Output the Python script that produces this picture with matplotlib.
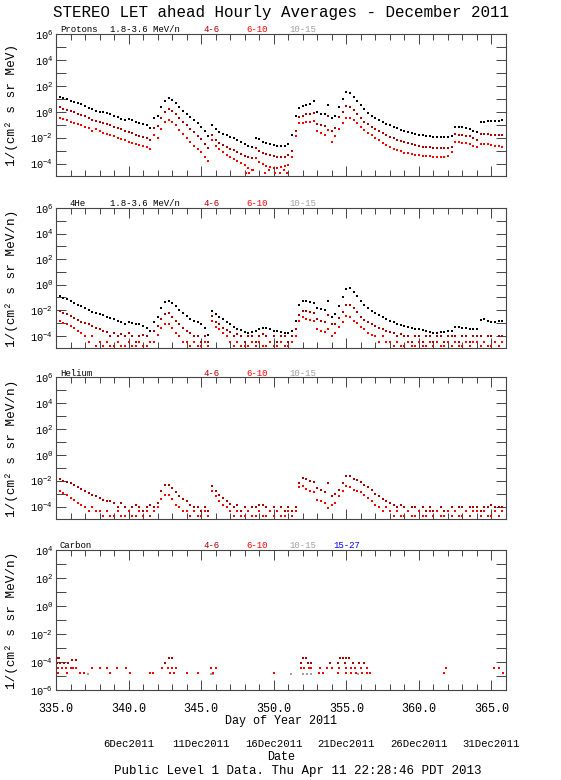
import numpy as np
import matplotlib.pyplot as plt
from matplotlib.ticker import FixedLocator, MultipleLocator, NullFormatter, FixedFormatter

plt.rcParams['font.family'] = ['Liberation Mono', 'DejaVu Sans Mono']
plt.rcParams['mathtext.default'] = 'regular'

# day of year grid, 4 samples per day (335.00 .. 365.75)
days = np.arange(335, 366, 0.25)

# log10 flux, one row per day
prot_18_36 = [
    1.22, 1.12, 1.03, 0.95,
    0.87, 0.78, 0.68, 0.58,
    0.46, 0.32, 0.18, 0.08,
    0.02, -0.03, -0.08, -0.15,
    -0.33, -0.40, -0.55, -0.65,
    -0.52, -0.65, -0.75, -0.85,
    -0.95, -1.05, -1.25, -0.45,
    -0.35, 0.35, 0.85, 1.08,
    0.90, 0.65, 0.35, 0.10,
    -0.15, -0.40, -0.65, -0.90,
    -1.15, -1.50, -1.85, -1.00,
    -1.35, -1.55, -1.70, -1.80,
    -1.95, -2.05, -2.20, -2.35,
    -2.50, -2.60, -2.70, -2.00,
    -2.10, -2.30, -2.40, -2.50,
    -2.55, -2.60, -2.65, -2.62,
    -2.50, -1.80, -0.30, 0.30,
    0.45, 0.55, 0.60, 0.85,
    -0.05, -0.15, -0.20, 0.50,
    -0.45, -0.35, 0.40, 1.00,
    1.55, 1.45, 1.15, 0.85,
    0.55, 0.20, -0.10, -0.30,
    -0.45, -0.60, -0.80, -0.92,
    -1.05, -1.15, -1.28, -1.38,
    -1.48, -1.55, -1.65, -1.72,
    -1.78, -1.82, -1.87, -1.90,
    -1.93, -1.95, -1.97, -1.97,
    -1.95, -1.85, -1.15, -1.18,
    -1.20, -1.25, -1.30, -1.45,
    -1.55, -0.80, -0.75, -0.72,
    -0.70, -0.72, -0.68, -0.65,
]
prot_4_6 = [
    0.44, 0.35, 0.25, 0.15,
    0.05, -0.05, -0.15, -0.25,
    -0.35, -0.45, -0.60, -0.68,
    -0.80, -0.88, -0.95, -1.05,
    -1.15, -1.25, -1.35, -1.50,
    -1.55, -1.65, -1.75, -1.85,
    -1.95, -2.05, -2.20, -1.25,
    -1.10, -0.50, 0.00, 0.18,
    0.05, -0.20, -0.50, -0.75,
    -1.00, -1.30, -1.55, -1.85,
    -2.10, -2.45, -2.80, -1.80,
    -2.15, -2.40, -2.55, -2.70,
    -2.85, -2.95, -3.10, -3.25,
    -3.40, -3.50, -3.60, -2.80,
    -3.00, -3.15, -3.25, -3.35,
    -3.40, -3.45, -3.50, -3.45,
    -3.30, -3.00, -1.50, -0.40,
    -0.30, -0.20, -0.15, -0.08,
    -0.95, -1.05, -1.12, -0.30,
    -1.45, -1.25, -0.40, 0.00,
    0.45, 0.40, 0.15, -0.15,
    -0.45, -0.75, -0.95, -1.15,
    -1.30, -1.45, -1.65, -1.80,
    -1.95, -2.05, -2.15, -2.25,
    -2.35, -2.42, -2.50, -2.58,
    -2.62, -2.68, -2.72, -2.75,
    -2.78, -2.80, -2.82, -2.82,
    -2.80, -2.75, -1.70, -1.75,
    -1.80, -1.85, -1.90, -2.05,
    -2.15, -1.70, -1.70, -1.72,
    -1.75, -1.78, -1.75, -1.77,
]
prot_6_10 = [
    -0.34, -0.45, -0.55, -0.65,
    -0.75, -0.85, -0.95, -1.05,
    -1.15, -1.28, -1.50, -1.30,
    -1.45, -1.60, -1.70, -1.80,
    -1.90, -2.00, -2.10, -2.20,
    -2.30, -2.40, -2.47, -2.55,
    -2.65, -2.75, -2.88, -1.80,
    -2.00, -1.30, -0.80, -0.60,
    -0.75, -1.00, -1.40, -1.70,
    -2.00, -2.30, -2.60, -2.90,
    -3.10, -3.50, -3.80, -2.20,
    -2.60, -2.90, -3.10, -3.30,
    -3.50, -3.65, -3.80, -3.95,
    -4.10, -4.30, -4.45, -3.60,
    -3.85, -4.00, -4.15, -4.25,
    -4.30, -4.30, -4.25, -4.20,
    -4.10, -3.50, -1.90, -0.90,
    -0.85, -0.80, -0.75, -0.72,
    -1.50, -1.65, -1.75, -1.40,
    -2.30, -1.90, -1.30, -0.90,
    -0.50, -0.50, -0.65, -0.90,
    -1.15, -1.40, -1.60, -1.80,
    -2.00, -2.20, -2.40, -2.55,
    -2.70, -2.85, -2.95, -3.05,
    -3.15, -3.20, -3.25, -3.30,
    -3.35, -3.38, -3.40, -3.43,
    -3.45, -3.45, -3.47, -3.45,
    -3.40, -3.10, -2.30, -2.35,
    -2.38, -2.42, -2.50, -2.65,
    -2.70, -2.45, -2.45, -2.50,
    -2.55, -2.60, -2.65, -2.68,
]
# low-count proton points near the floor, 6-10 MeV
prot_6_10_floor_day = [348.1, 348.3, 348.6, 349.4, 349.7, 350.1, 350.4, 350.7, 350.9]
prot_6_10_floor_log = [-4.75, -4.75, -4.5, -4.75, -4.5, -4.75, -4.75, -4.5, -4.75]

he4_18_36 = [
    -0.79, -0.92, -1.05, -1.15,
    -1.25, -1.40, -1.55, -1.70,
    -1.85, -1.97, -2.10, -2.20,
    -2.30, -2.40, -2.50, -2.58,
    -2.70, -2.80, -2.95, -3.05,
    -2.90, -3.00, -3.05, -3.10,
    -3.20, -3.35, -3.60, -2.90,
    -2.50, -1.80, -1.35, -1.25,
    -1.45, -1.70, -2.00, -2.25,
    -2.45, -2.65, -2.80, -2.95,
    -3.05, -3.40, -3.90, -2.05,
    -2.30, -2.50, -2.70, -2.90,
    -3.10, -3.30, -3.45, -3.55,
    -3.70, -3.75, -3.70, -3.60,
    -3.50, -3.40, -3.40, -3.50,
    -3.60, -3.65, -3.70, -3.75,
    -3.80, -3.60, -2.80, -1.60,
    -1.30, -1.30, -1.35, -1.40,
    -1.80, -1.90, -2.00, -1.30,
    -2.55, -2.30, -1.70, -1.00,
    -0.30, -0.25, -0.55, -0.85,
    -1.30, -1.60, -1.85, -2.05,
    -2.25, -2.40, -2.55, -2.70,
    -2.85, -2.95, -3.05, -3.12,
    -3.20, -3.30, -3.40, -3.45,
    -3.50, -3.55, -3.60, -3.70,
    -3.75, -3.75, -3.70, -3.70,
    -3.65, -3.60, -3.30, -3.30,
    -3.35, -3.40, -3.45, -3.50,
    -3.50, -2.75, -2.70, -2.80,
    -2.95, -2.90, -2.85, -2.85,
]
he4_4_6 = [
    -1.92, -2.05, -2.20, -2.30,
    -2.45, -2.60, -2.75, -2.90,
    -3.00, -3.10, -3.24, -3.40,
    -3.50, -3.60, -3.70, -4.00,
    -3.75, -4.00, -3.85, -4.00,
    -3.80, -4.00, -4.47, -4.00,
    -3.90, -4.00, -4.47, -3.60,
    -3.20, -2.70, -2.30, -2.25,
    -2.50, -2.80, -3.10, -3.35,
    -3.60, -3.80, -4.00, -4.00,
    -4.47, -4.00, -4.47, -2.45,
    -2.90, -3.10, -3.35, -3.55,
    -3.70, -4.00, -3.85, -4.00,
    -4.47, -4.00, -4.00, -4.47,
    -4.00, -3.85, -4.00, -4.47,
    -4.00, -4.47, -4.00, -4.00,
    -4.47, -4.00, -3.50, -2.40,
    -2.05, -2.05, -2.10, -2.20,
    -2.70, -2.80, -2.90, -2.40,
    -3.10, -3.05, -2.60, -2.10,
    -1.55, -1.60, -1.85, -2.10,
    -2.50, -2.75, -2.95, -3.10,
    -3.25, -3.35, -3.50, -3.60,
    -3.70, -3.75, -4.00, -3.85,
    -4.00, -4.00, -4.47, -4.00,
    -4.00, -4.47, -4.00, -4.00,
    -4.47, -4.00, -4.00, -4.47,
    -4.00, -4.00, -4.00, -4.47,
    -4.00, -4.00, -4.47, -4.00,
    -4.00, -4.00, -4.47, -4.00,
    -4.00, -4.47, -4.00, -4.00,
]
he4_6_10 = [
    -2.70, -2.85, -3.00, -3.10,
    -3.24, -3.40, -3.60, -3.76,
    -4.00, -4.47, -4.00, -4.80,
    -4.47, -4.80, -4.47, -4.80,
    -4.80, -4.47, -4.80, -4.80,
    -4.47, -4.80, -4.80, -4.47,
    -4.80, -4.80, -4.47, -4.47,
    -3.90, -3.40, -3.10, -3.10,
    -3.40, -3.76, -4.00, -4.47,
    -4.47, -4.80, -4.47, -4.80,
    -4.80, -4.47, -4.80, -2.84,
    -3.30, -3.50, -3.80, -4.00,
    -4.47, -4.80, -4.47, -4.80,
    -4.80, -4.80, -4.47, -4.80,
    -4.47, -4.80, -4.80, -4.47,
    -4.80, -4.80, -4.47, -4.80,
    -4.80, -4.47, -4.00, -2.80,
    -2.50, -2.70, -2.75, -2.80,
    -3.50, -3.60, -3.70, -3.50,
    -4.00, -3.80, -3.30, -2.90,
    -2.45, -2.50, -2.80, -3.00,
    -3.30, -3.50, -3.75, -3.90,
    -4.00, -4.47, -4.00, -4.47,
    -4.47, -4.80, -4.47, -4.80,
    -4.80, -4.47, -4.80, -4.80,
    -4.47, -4.80, -4.80, -4.47,
    -4.80, -4.47, -4.80, -4.80,
    -4.47, -4.80, -4.47, -4.80,
    -4.80, -4.47, -4.80, -4.47,
    -4.47, -4.80, -4.47, -4.80,
    -4.80, -4.47, -4.80, -4.47,
]

hel_4_6 = [
    -1.77, -1.90, -2.00, -2.10,
    -2.20, -2.35, -2.50, -2.65,
    -2.80, -2.95, -3.07, -3.20,
    -3.30, -3.45, -3.55, -3.60,
    -3.70, -4.00, -3.75, -4.00,
    -4.37, -4.00, -3.85, -4.00,
    -4.37, -4.00, -3.90, -4.00,
    -3.70, -2.80, -2.30, -2.30,
    -2.55, -2.90, -3.20, -3.40,
    -3.60, -3.85, -4.00, -4.00,
    -4.37, -4.00, -4.37, -2.40,
    -2.80, -3.10, -3.35, -3.60,
    -3.80, -4.00, -3.90, -4.37,
    -4.00, -4.37, -4.00, -4.00,
    -3.85, -3.85, -4.00, -4.37,
    -4.00, -4.37, -4.00, -4.37,
    -4.00, -4.37, -4.00, -2.20,
    -1.80, -1.85, -2.00, -2.10,
    -2.55, -2.75, -2.90, -2.20,
    -3.20, -3.00, -2.70, -2.20,
    -1.60, -1.65, -1.85, -1.95,
    -2.10, -2.30, -2.50, -2.75,
    -3.00, -3.20, -3.40, -3.60,
    -3.70, -3.85, -4.00, -3.85,
    -4.00, -4.37, -4.00, -4.00,
    -4.37, -4.00, -4.37, -4.00,
    -4.37, -4.37, -4.00, -4.37,
    -4.37, -4.00, -4.37, -4.00,
    -4.00, -4.37, -4.00, -4.00,
    -4.00, -4.37, -4.00, -4.00,
    -3.90, -4.00, -4.00, -4.00,
]
hel_6_10 = [
    -2.60, -2.80, -2.95, -3.10,
    -3.30, -3.45, -3.72, -3.85,
    -4.00, -4.37, -4.00, -4.37,
    -4.37, -4.69, -4.37, -4.69,
    -4.69, -4.37, -4.69, -4.69,
    -4.37, -4.69, -4.69, -4.37,
    -4.69, -4.37, -4.69, -4.37,
    -4.00, -3.40, -3.07, -3.10,
    -3.40, -3.85, -4.00, -4.37,
    -4.37, -4.69, -4.37, -4.69,
    -4.69, -4.37, -4.69, -2.81,
    -3.20, -3.60, -3.85, -4.00,
    -4.37, -4.69, -4.37, -4.69,
    -4.69, -4.37, -4.69, -4.69,
    -4.37, -4.69, -4.69, -4.37,
    -4.69, -4.37, -4.69, -4.69,
    -4.37, -4.69, -4.37, -2.50,
    -2.42, -2.60, -2.80, -2.90,
    -3.46, -3.60, -3.70, -4.10,
    -3.85, -3.70, -3.20, -2.80,
    -2.42, -2.50, -2.70, -2.80,
    -2.85, -3.10, -3.35, -3.60,
    -3.85, -4.00, -4.37, -4.00,
    -4.37, -4.69, -4.37, -4.69,
    -4.69, -4.37, -4.69, -4.69,
    -4.37, -4.69, -4.69, -4.37,
    -4.69, -4.37, -4.69, -4.69,
    -4.37, -4.69, -4.37, -4.69,
    -4.69, -4.37, -4.69, -4.37,
    -4.37, -4.69, -4.37, -4.69,
    -4.69, -4.37, -4.69, -4.37,
]

# carbon: only scattered single-count hours
carb_4_6_day = [335.0, 335.1, 335.2, 342.8, 343.0, 352.0, 352.25, 354.55, 354.8, 355.0, 355.2,
                335.05, 335.3, 335.55, 335.8, 336.1, 336.4, 342.5, 351.9, 352.35, 352.6,
                353.85, 354.4, 354.9, 355.45, 355.9, 356.25]
carb_4_6_log = [-3.73, -3.73, -3.73, -3.73, -3.73, -3.73, -3.73, -3.73, -3.73, -3.73, -3.73,
                -4.05, -4.05, -4.05, -4.05, -3.85, -3.85, -4.05, -4.05, -4.05, -4.05,
                -4.05, -4.05, -4.05, -4.05, -4.05, -4.05]
carb_6_10_day = [335.0, 335.15, 335.4, 335.7, 336.0, 336.2, 336.4, 337.45, 338.0, 338.5, 339.17,
                 339.85, 342.3, 342.7, 343.0, 343.3, 345.7, 346.05, 351.9, 352.1, 352.4, 352.6,
                 353.2, 353.7, 354.0, 354.5, 355.0, 355.3, 355.6, 356.0, 356.4, 361.9, 365.2, 365.55,
                 335.15, 335.75, 336.65, 336.9, 338.7, 340.1, 341.45, 341.7, 342.85, 343.1, 344.0,
                 344.8, 345.8, 350.05, 353.15, 353.4, 354.4, 355.0, 355.35, 355.7, 356.05, 356.4,
                 356.6, 361.75, 365.8]
carb_6_10_log = [-4.46] * 34 + [-4.82] * 25
carb_10_15_day = [337.2, 345.7, 345.8, 351.2, 352.0, 352.3, 352.6, 355.8]
carb_10_15_log = [-4.87] * 8

c_black = '#000000'
c_dred = '#a80000'
c_red = '#ff0000'
c_gray = '#a0a0a0'
c_blue = '#0000ff'

W, H = 561, 780
fig = plt.figure(figsize=(W / 100, H / 100), dpi=100)

# flat marker so the quarter-day samples read as a dense run of hourly dots
flat = [(-1, -0.5), (1, -0.5), (1, 0.5), (-1, 0.5), (-1, -0.5)]


def px(x, y):
    return x / W, 1 - y / H


def panel(top, bottom, ylo, yhi):
    ax = fig.add_axes([56 / W, 1 - bottom / H, 450 / W, (bottom - top) / H])
    ax.set_xlim(335, 366)
    ax.set_yscale('log')
    ax.set_ylim(10.0 ** ylo, 10.0 ** yhi)
    maj = list(range(int(np.ceil(ylo)) + (int(np.ceil(ylo)) % 2), yhi + 1, 2))
    mnr = [e for e in range(int(np.ceil(ylo)), yhi + 1) if e not in maj]
    ax.yaxis.set_major_locator(FixedLocator([10.0 ** e for e in maj]))
    ax.yaxis.set_major_formatter(FixedFormatter(['$10^{%d}$' % e for e in maj]))
    ax.yaxis.set_minor_locator(FixedLocator([10.0 ** e for e in mnr]))
    ax.yaxis.set_minor_formatter(NullFormatter())
    ax.xaxis.set_major_locator(MultipleLocator(5))
    ax.xaxis.set_minor_locator(MultipleLocator(1))
    ax.tick_params(which='both', direction='in', top=True, right=True, width=0.7, color='#444444')
    ax.tick_params(axis='x', which='major', length=7)
    ax.tick_params(axis='x', which='minor', length=4)
    ax.tick_params(axis='y', which='both', length=7)
    ax.tick_params(axis='y', labelsize=7.5, pad=2)
    ax.tick_params(axis='x', labelsize=8.5, pad=9)
    for s in ax.spines.values():
        s.set_linewidth(0.8)
        s.set_color('#444444')
    return ax


def dots(ax, x, logv, color):
    ax.plot(x, 10.0 ** np.asarray(logv), linestyle='none', marker=flat,
            markersize=2.0, markeredgewidth=0, color=color)


def spots(ax, x, logv, color):
    ax.plot(x, 10.0 ** np.asarray(logv), linestyle='none', marker='s',
            markersize=1.5, markeredgewidth=0, color=color)


def labels(top, first, second, extra=()):
    y = top - 4
    fig.text(*px(60, y), first, fontsize=6.5, va='center', ha='left')
    if second:
        fig.text(*px(110, y), second, fontsize=6.5, va='center', ha='left')
    for x, t, c in [(203, '4-6', c_dred), (246, '6-10', c_red), (289, '10-15', c_gray)] + list(extra):
        fig.text(*px(x, y), t, fontsize=6.5, va='center', ha='left', color=c)


ax1 = panel(34, 176, -4.95, 6)
dots(ax1, days, prot_18_36, c_black)
dots(ax1, days, prot_4_6, c_dred)
dots(ax1, days, prot_6_10, c_red)
spots(ax1, prot_6_10_floor_day, prot_6_10_floor_log, c_red)
ax1.set_xticklabels([])
labels(34, 'Protons', '1.8-3.6 MeV/n')

ax2 = panel(208, 348, -4.95, 6)
dots(ax2, days, he4_18_36, c_black)
dots(ax2, days, he4_4_6, c_dred)
dots(ax2, days, he4_6_10, c_red)
ax2.set_xticklabels([])
fig.text(*px(69, 204), '4He', fontsize=6.5, va='center', ha='left')
labels(208, '', '1.8-3.6 MeV/n')

ax3 = panel(377, 519, -4.95, 6)
dots(ax3, days, hel_4_6, c_dred)
dots(ax3, days, hel_6_10, c_red)
ax3.set_xticklabels([])
labels(377, 'Helium', '')

ax4 = panel(550, 690, -6, 4)
spots(ax4, carb_10_15_day, carb_10_15_log, c_gray)
spots(ax4, carb_4_6_day, carb_4_6_log, c_dred)
spots(ax4, carb_6_10_day, carb_6_10_log, c_red)
ax4.xaxis.set_major_formatter(plt.FormatStrFormatter('%.1f'))
labels(550, 'Carbon', '', [(333, '15-27', c_blue)])

ylab_p = '1/(cm² s sr MeV)'
ylab_n = '1/(cm² s sr MeV/n)'
for (t, b), lab in zip([(34, 176), (208, 348), (377, 519), (550, 690)],
                       [ylab_p, ylab_n, ylab_n, ylab_n]):
    fig.text(*px(12, (t + b) / 2), lab, rotation=90, fontsize=9.2, va='center', ha='center')

fig.text(*px(281, 12), 'STEREO LET ahead Hourly Averages - December 2011',
         fontsize=11.4, ha='center', va='center')
fig.text(*px(281, 721), 'Day of Year 2011', fontsize=8.5, ha='center', va='center')

date_days = [340, 345, 350, 355, 360, 365]
date_labels = ['6Dec2011', '11Dec2011', '16Dec2011', '21Dec2011', '26Dec2011', '31Dec2011']
for d, t in zip(date_days, date_labels):
    ax4.text(d, -0.386, t, transform=ax4.get_xaxis_transform(), fontsize=7.7,
             ha='center', va='center')
fig.text(*px(281, 757), 'Date', fontsize=8.5, ha='center', va='center')
fig.text(*px(298, 771), 'Public Level 1 Data. Thu Apr 11 22:28:46 PDT 2013',
         fontsize=9, ha='center', va='center')

fig.savefig('out.png', dpi=100)
